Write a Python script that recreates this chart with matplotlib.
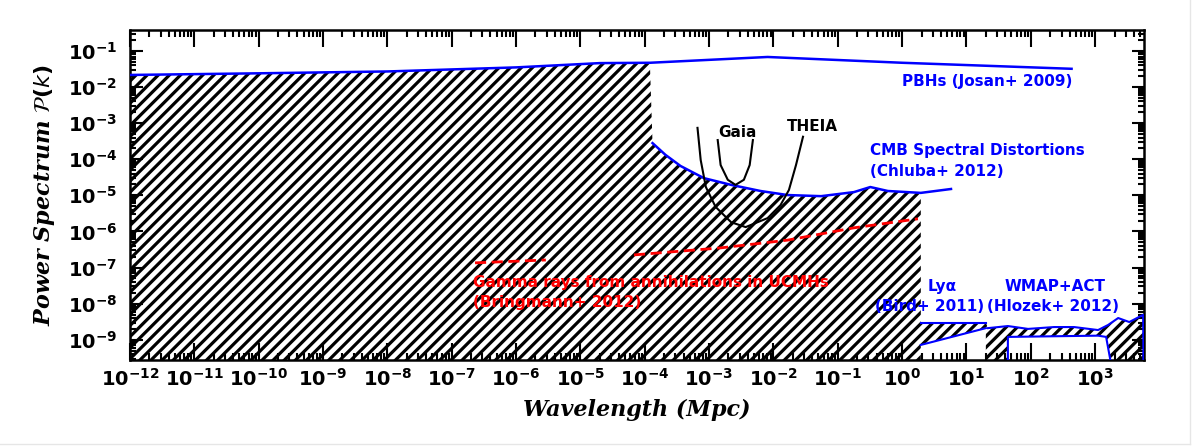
import numpy as np
import matplotlib
matplotlib.use("Agg")
import matplotlib.pyplot as plt
from matplotlib.ticker import LogLocator, FixedLocator, NullFormatter

plt.rcParams['mathtext.default'] = 'bf'
plt.rcParams['hatch.linewidth'] = 2.3

# ---------------- data (wavelength in Mpc, power spectrum P(k)) ----------------
pbh_wl = [1e-12, 1e-10, 1e-8, 1e-6, 2.0e-5, 1.2e-4, 8.1e-3, 1.0, 4.3e2]
pbh_p = [0.0216, 0.024, 0.027, 0.035, 0.046, 0.047, 0.068, 0.047, 0.032]

cmb_wl = [1.32e-4, 2.1e-4, 3.6e-4, 8.3e-4, 2.2e-3, 6.3e-3, 1.66e-2, 5.5e-2,
          0.178, 0.32, 0.60, 1.95, 5.75]
cmb_p = [2.8e-4, 1.32e-4, 6.5e-5, 3.0e-5, 1.95e-5, 1.32e-5, 1.02e-5, 9.5e-6,
         1.23e-5, 1.7e-5, 1.32e-5, 1.17e-5, 1.5e-5]

lya_wl = [1.95, 20.0]
lya_top = [2.95e-9, 2.95e-9]
lya_low = [7.2e-10, 2.1e-9]

wmap_wl = [21.6, 44.0, 90.6, 230.0, 470.0, 1110.0, 1590.0, 2280.0, 3390.0, 5570.0]
wmap_top = [2.1e-9, 2.4e-9, 2.0e-9, 2.25e-9, 2.25e-9, 1.86e-9, 2.57e-9, 4.0e-9, 3.1e-9, 4.9e-9]
wmapbox_wl = [44.0, 44.0, 1110.0, 1480.0, 1780.0]
wmapbox_p = [2.0e-10, 1.2e-9, 1.3e-9, 1.2e-9, 2.0e-10]

gamma1_wl = [2.3e-7, 2.9e-6]
gamma1_p = [1.35e-7, 1.62e-7]
gamma2_wl = [6.8e-5, 1.5e-3, 1.66e-2, 0.178, 1.76]
gamma2_p = [2.24e-7, 3.5e-7, 5.75e-7, 1.26e-6, 2.24e-6]

gaia_wl = [1.36e-3, 1.51e-3, 1.95e-3, 2.57e-3, 3.47e-3, 4.27e-3, 4.79e-3]
gaia_p = [3.4e-4, 6.9e-5, 2.7e-5, 1.95e-5, 2.7e-5, 6.9e-5, 3.4e-4]

theia_wl = [6.6e-4, 7.4e-4, 8.9e-4, 1.26e-3, 2.2e-3, 3.7e-3, 8.1e-3, 1.29e-2,
            1.74e-2, 2.24e-2, 2.88e-2]
theia_p = [7.4e-4, 9.5e-5, 1.7e-5, 4.8e-6, 1.8e-6, 1.32e-6, 2.34e-6, 5.4e-6,
           1.41e-5, 6.9e-5, 4.2e-4]

x_ticks = [10.0 ** e for e in range(-12, 4)]
x_ticklabels = [r'$10^{%d}$' % e for e in range(-12, 4)]
y_ticks = [10.0 ** e for e in range(-9, 0)]
y_ticklabels = [r'$10^{%d}$' % e for e in range(-9, 0)]

xlim = (1e-12, 5754.0)
ylim = (2.75e-10, 0.38)

# ---------------- figure ----------------
fig = plt.figure(figsize=(12.03, 4.47), dpi=100)
ax = fig.add_axes([0.1081, 0.1946, 0.951 - 0.1081, 0.9329 - 0.1946])
ax.set_xscale('log')
ax.set_yscale('log')
ax.set_xlim(*xlim)
ax.set_ylim(*ylim)

# excluded (hatched) region
bottom = 1e-11
hx, hy = [], []
for w, p in zip(pbh_wl, pbh_p):
    if w <= 1.2e-4:
        hx.append(w); hy.append(p)
for w, p in zip(cmb_wl, cmb_p):
    if w <= 1.95:
        hx.append(w); hy.append(p)
hx += lya_wl; hy += lya_top
hx += wmap_wl; hy += wmap_top
hx += [xlim[1] * 2, xlim[1] * 2, pbh_wl[0] / 10, pbh_wl[0] / 10]
hy += [wmap_top[-1], bottom, bottom, pbh_p[0]]
ax.fill(hx, hy, facecolor='white', edgecolor='black', linewidth=0,
        hatch='///', zorder=1.1)

# allowed holes
ax.fill(lya_wl + lya_wl[::-1], lya_low + [bottom, bottom], facecolor='white',
        edgecolor='none', zorder=1.2)
ax.fill(wmapbox_wl, wmapbox_p, facecolor='white', edgecolor='none', zorder=1.2)

blue = '#0000ff'
ax.plot(pbh_wl, pbh_p, color=blue, lw=1.8, zorder=3)
ax.plot(cmb_wl, cmb_p, color=blue, lw=1.8, zorder=3)
ax.plot(lya_wl, lya_top, color=blue, lw=1.5, zorder=3)
ax.plot(lya_wl, lya_low, color=blue, lw=1.5, zorder=3)
ax.plot(wmap_wl + [wmap_wl[-1] * 1.02], wmap_top + [bottom], color=blue, lw=1.5, zorder=3)
ax.plot(wmapbox_wl, wmapbox_p, color=blue, lw=1.5, zorder=3)

red = '#ff0000'
ax.plot(gamma1_wl, gamma1_p, color=red, lw=2.0, ls=(0, (4, 2)), zorder=3)
ax.plot(gamma2_wl, gamma2_p, color=red, lw=2.0, ls=(0, (4, 2)), zorder=3)

ax.plot(gaia_wl, gaia_p, color='black', lw=1.5, zorder=3)
ax.plot(theia_wl, theia_p, color='black', lw=1.5, zorder=3)

# ---------------- axes styling ----------------
ax.xaxis.set_major_locator(FixedLocator(x_ticks))
ax.set_xticklabels(x_ticklabels)
ax.xaxis.set_minor_locator(LogLocator(base=10, subs=np.arange(2, 10), numticks=100))
ax.xaxis.set_minor_formatter(NullFormatter())
ax.yaxis.set_major_locator(FixedLocator(y_ticks))
ax.set_yticklabels(y_ticklabels)
ax.yaxis.set_minor_locator(LogLocator(base=10, subs=np.arange(2, 10), numticks=100))
ax.yaxis.set_minor_formatter(NullFormatter())

ax.tick_params(which='both', direction='in', top=True, right=True, width=1.5,
               colors='black')
ax.tick_params(axis='x', which='major', length=12, pad=6, labelsize=14)
ax.tick_params(axis='x', which='minor', length=5)
ax.tick_params(axis='y', which='major', length=9, pad=9, labelsize=14)
ax.tick_params(axis='y', which='minor', length=4)
for s in ax.spines.values():
    s.set_linewidth(1.8)

ax.set_xlabel('Wavelength (Mpc)', family='DejaVu Serif', style='italic',
              weight='bold', fontsize=16, labelpad=6)
ax.set_ylabel(r'Power Spectrum $\mathcal{P}(\mathit{k})$', family='DejaVu Serif',
              style='italic', weight='bold', fontsize=16, labelpad=8)

# ---------------- annotations ----------------
tkw = dict(transform=ax.transAxes, fontsize=11, fontweight='bold', family='DejaVu Sans')
ax.text(0.761, 0.843, 'PBHs (Josan+ 2009)', color=blue, ha='left', va='center', **tkw)
ax.text(0.730, 0.603, 'CMB Spectral Distortions\n(Chluba+ 2012)', color=blue,
        ha='left', va='center', linespacing=1.45, **tkw)
ax.text(0.599, 0.688, 'Gaia', color='black', ha='center', va='center', **tkw)
ax.text(0.673, 0.709, 'THEIA', color='black', ha='center', va='center', **tkw)
ax.text(0.338, 0.2045, 'Gamma rays from annihilations in UCMHs\n(Bringmann+ 2012)',
        color=red, ha='left', va='center', linespacing=1.4, **tkw)
ax.text(0.787, 0.224, 'Ly\u03b1', color=blue, ha='left', va='center', **tkw)
ax.text(0.842, 0.161, '(Bird+ 2011)', color=blue, ha='right', va='center', **tkw)
ax.text(0.912, 0.224, 'WMAP+ACT', color=blue, ha='center', va='center', **tkw)
ax.text(0.845, 0.161, '(Hlozek+ 2012)', color=blue, ha='left', va='center', **tkw)

# faint page frame
fig.add_artist(plt.Line2D([1190 / 1203, 1190 / 1203], [3 / 447, 1.0], color='#e6e6e6', lw=1))
fig.add_artist(plt.Line2D([0.0, 1190 / 1203], [3 / 447, 3 / 447], color='#e6e6e6', lw=1))

fig.savefig('out.png', dpi=100)
